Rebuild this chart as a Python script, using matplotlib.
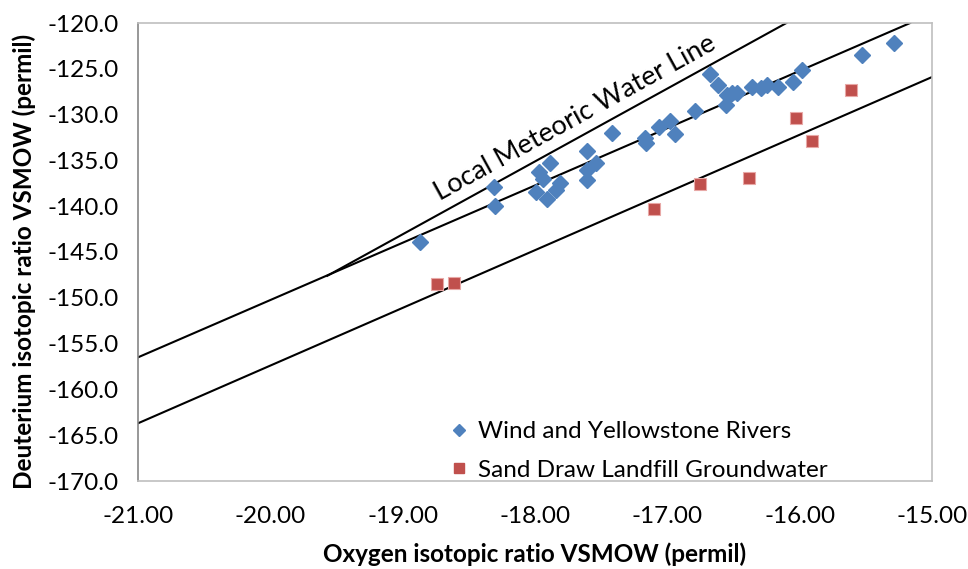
import numpy as np
import matplotlib
matplotlib.use('Agg')
import matplotlib.pyplot as plt
from matplotlib.lines import Line2D
from matplotlib.ticker import FormatStrFormatter

plt.rcParams['font.family'] = ['Lato', 'DejaVu Sans']
plt.rcParams['axes.unicode_minus'] = False

# Wind and Yellowstone Rivers (d18O, d2H)
river_o18 = [-18.87, -18.31, -18.30, -17.89, -17.97, -17.94, -17.99, -17.91,
             -17.84, -17.81, -17.61, -17.61, -17.61, -17.54, -17.42, -17.17,
             -17.16, -17.06, -16.98, -16.94, -16.79, -16.68, -16.62, -16.55,
             -16.56, -16.51, -16.47, -16.36, -16.29, -16.25, -16.16, -16.05,
             -15.98, -15.53, -15.29]
river_d2h = [-143.9, -137.9, -140.0, -135.3, -136.3, -137.0, -138.5, -139.2,
             -138.2, -137.5, -134.0, -136.1, -137.1, -135.3, -132.0, -132.5,
             -133.1, -131.4, -130.7, -132.1, -129.6, -125.6, -126.8, -127.9,
             -128.9, -127.6, -127.6, -127.0, -127.1, -126.8, -127.0, -126.4,
             -125.1, -123.5, -122.2]

# Sand Draw Landfill Groundwater
landfill_o18 = [-18.74, -18.61, -17.10, -16.75, -16.38, -16.03, -15.91, -15.61]
landfill_d2h = [-148.5, -148.4, -140.3, -137.6, -136.9, -130.4, -132.9, -127.3]

# straight lines (end points)
lmwl_x = [-19.57, -16.10]
lmwl_y = [-147.6, -120.0]
river_line_x = [-21.0, -15.165]
river_line_y = [-156.5, -120.0]
landfill_line_x = [-21.0, -15.0]
landfill_line_y = [-163.7, -125.9]

x_ticks = [-21, -20, -19, -18, -17, -16, -15]
y_ticks = [-170, -165, -160, -155, -150, -145, -140, -135, -130, -125, -120]

blue = '#4F81BD'
red = '#C0504D'
fs = 17.5

fig = plt.figure(figsize=(9.68, 5.69), dpi=100)
ax = fig.add_axes([138 / 968, 1 - 481 / 569, 794 / 968, 458 / 569])

ax.plot(lmwl_x, lmwl_y, color='black', lw=1.5)
ax.plot(river_line_x, river_line_y, color='black', lw=1.5)
ax.plot(landfill_line_x, landfill_line_y, color='black', lw=1.5)

ax.plot(river_o18, river_d2h, linestyle='none', marker='D', ms=8.5,
        color=blue, markeredgecolor=blue, zorder=3)
ax.plot(landfill_o18, landfill_d2h, linestyle='none', marker='s', ms=8.5,
        color=red, markeredgecolor='#E8A8A6', markeredgewidth=0.8, zorder=3)

ax.set_xlim(-21, -15)
ax.set_ylim(-170, -120)
ax.set_xticks(x_ticks)
ax.set_yticks(y_ticks)
ax.xaxis.set_major_formatter(FormatStrFormatter('%.2f'))
ax.yaxis.set_major_formatter(FormatStrFormatter('%.1f'))
ax.tick_params(axis='x', length=0, pad=18, labelsize=fs)
ax.tick_params(axis='y', length=0, pad=14, labelsize=fs)

for side in ['top', 'right', 'bottom']:
    ax.spines[side].set_color('#BFBFBF')
    ax.spines[side].set_linewidth(1.2)
ax.spines['left'].set_color('#868686')
ax.spines['left'].set_linewidth(1.2)

ax.set_xlabel('Oxygen isotopic ratio VSMOW (permil)', fontsize=fs,
              fontweight='bold')
ax.set_ylabel('Deuterium isotopic ratio VSMOW (permil)', fontsize=fs,
              fontweight='bold')
ax.xaxis.set_label_coords(0.5, -0.133)
ax.yaxis.set_label_coords(-0.128, 0.48)

# label along the meteoric water line
p0 = ax.transData.transform((lmwl_x[0], lmwl_y[0]))
p1 = ax.transData.transform((lmwl_x[1], lmwl_y[1]))
angle = np.degrees(np.arctan2(p1[1] - p0[1], p1[0] - p0[0]))
ax.text(-17.70, -130.4, 'Local Meteoric Water Line', fontsize=19.5,
        rotation=angle, rotation_mode='anchor', ha='center', va='center')

handles = [
    Line2D([], [], linestyle='none', marker='D', ms=6.5, color=blue),
    Line2D([], [], linestyle='none', marker='s', ms=7.5, color=red),
]
ax.legend(handles, ['Wind and Yellowstone Rivers', 'Sand Draw Landfill Groundwater'],
          loc='upper left', bbox_to_anchor=(0.394, 0.13), frameon=False,
          fontsize=fs, handlelength=0.7, handletextpad=0.4,
          labelspacing=0.7, borderpad=0, borderaxespad=0)

fig.savefig('out.png', dpi=100)
